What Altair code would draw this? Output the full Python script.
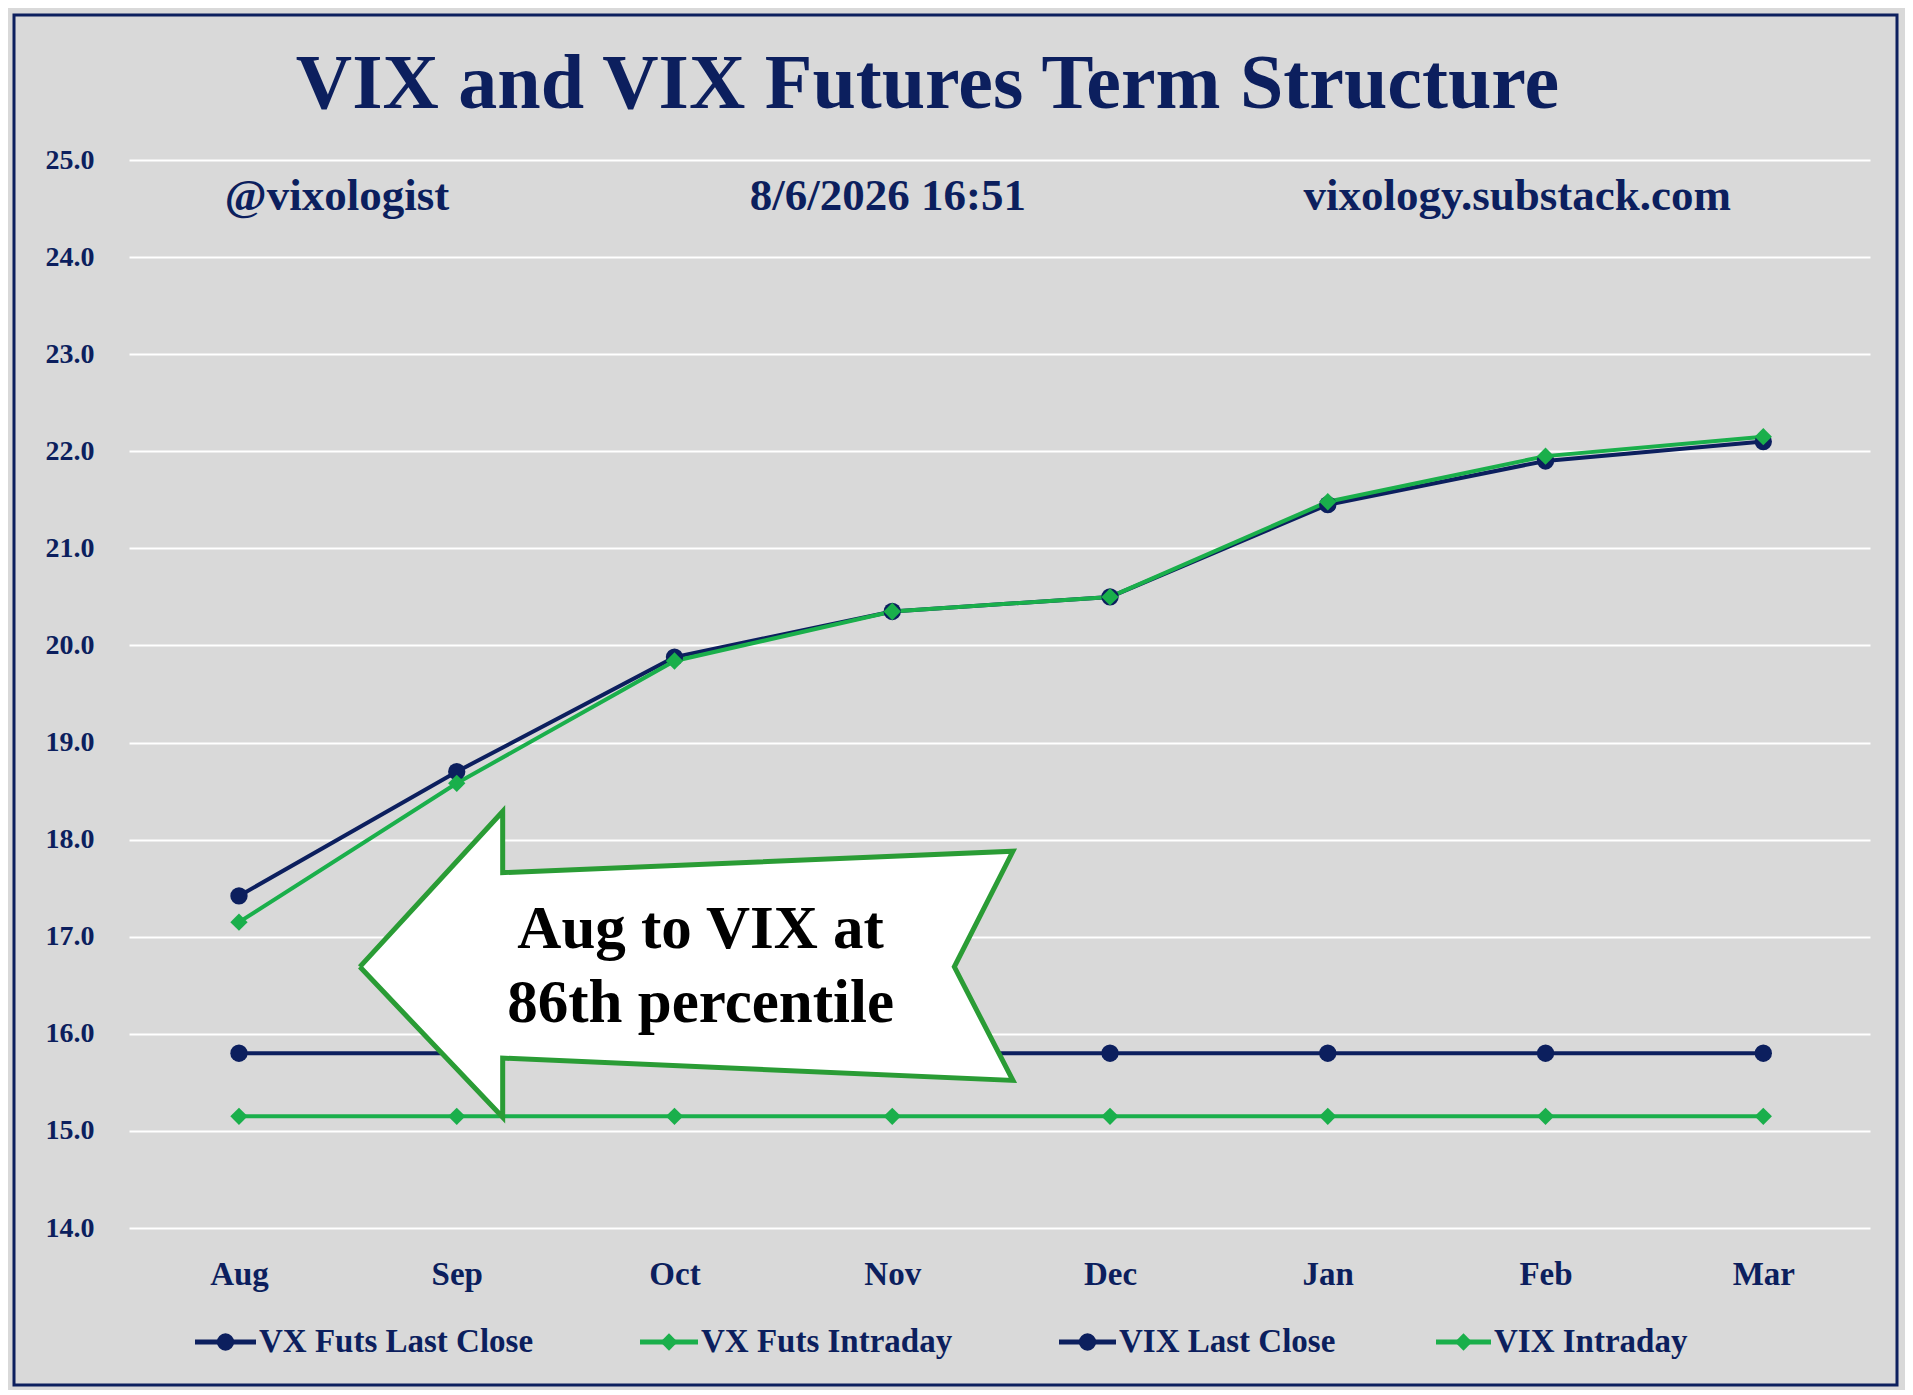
import pandas as pd
import altair as alt

months = ["Aug", "Sep", "Oct", "Nov", "Dec", "Jan", "Feb", "Mar"]
vx_close = [17.42, 18.70, 19.88, 20.35, 20.50, 21.45, 21.90, 22.10]
vx_intraday = [17.15, 18.58, 19.84, 20.35, 20.50, 21.48, 21.95, 22.15]
vix_close = [15.80] * 8
vix_intraday = [15.15] * 8

series = ["VX Futs Last Close", "VX Futs Intraday", "VIX Last Close", "VIX Intraday"]
navy = "#0c1f5e"
green = "#1aaf4b"
font = "Liberation Serif"
colors = [navy, green, navy, green]
shapes = ["circle", "diamond", "circle", "diamond"]

rows = []
for name, vals in zip(series, [vx_close, vx_intraday, vix_close, vix_intraday]):
    for i, v in enumerate(vals):
        rows.append({"i": i, "month": months[i], "value": v, "series": name})
df = pd.DataFrame(rows)

# arrow callout outline (data units)
arrow = pd.DataFrame({
    "o": range(9),
    "x": [0.555, 1.211, 1.211, 3.554, 3.285, 3.554, 1.211, 1.211, 0.555],
    "y": [16.69, 18.29, 17.66, 17.88, 16.69, 15.52, 15.75, 15.14, 16.69],
})

W, H = 1741, 1068
xs = alt.Scale(domain=[-0.505, 7.49], nice=False, zero=False)
ys = alt.Scale(domain=[14, 25], nice=False, zero=False)
cs = alt.Scale(domain=series, range=colors)
ss = alt.Scale(domain=series, range=shapes)
label_expr = "[" + ",".join(f"'{m}'" for m in months) + "][datum.value]"

base = alt.Chart(df).encode(
    x=alt.X("i:Q", scale=xs, title=None,
            axis=alt.Axis(values=list(range(8)), labelExpr=label_expr, grid=False, ticks=False,
                          domain=False, labelFont=font, labelFontSize=33, labelFontWeight="bold",
                          labelColor=navy, labelPadding=30)),
    y=alt.Y("value:Q", scale=ys, title=None,
            axis=alt.Axis(values=list(range(14, 26)), format=".1f", gridColor="white", gridWidth=2,
                          ticks=False, domain=False, labelFont=font, labelFontSize=28,
                          labelFontWeight="bold", labelColor=navy, labelPadding=35)),
    color=alt.Color("series:N", scale=cs, legend=None),
)
lines = base.mark_line(strokeWidth=4)
points = base.mark_point(filled=True, size=300, opacity=1).encode(
    shape=alt.Shape("series:N", scale=ss, legend=None))

# hand-placed legend (line + marker + label)
leg = pd.DataFrame({"series": series, "x1": [66, 511, 930, 1307], "x2": [127, 569, 987, 1362]})
leg["xm"] = (leg["x1"] + leg["x2"]) / 2
leg["xt"] = leg["x2"] + 3
legy = 1182
leg_line = alt.Chart(leg).mark_rule(strokeWidth=5).encode(
    x=alt.X("x1:Q", scale=None), x2="x2:Q", y=alt.value(legy),
    color=alt.Color("series:N", scale=cs, legend=None))
leg_pt = alt.Chart(leg).mark_point(filled=True, size=300, opacity=1).encode(
    x=alt.X("xm:Q", scale=None), y=alt.value(legy),
    color=alt.Color("series:N", scale=cs, legend=None),
    shape=alt.Shape("series:N", scale=ss, legend=None))
leg_txt = alt.Chart(leg).mark_text(font=font, fontSize=33, fontWeight="bold", color=navy,
                                   align="left", baseline="middle").encode(
    x=alt.X("xt:Q", scale=None), y=alt.value(legy), text="series:N")

arrow_shape = alt.Chart(arrow).mark_line(fill="white", stroke="#2a9c35", strokeWidth=5,
                                          strokeJoin="miter").encode(
    x=alt.X("x:Q", scale=xs), y=alt.Y("y:Q", scale=ys), order="o:Q")

callout = pd.DataFrame({"x": [2.12, 2.12], "y": [17.07, 16.31],
                        "t": ["Aug to VIX at", "86th percentile"]})
callout_text = alt.Chart(callout).mark_text(font=font, fontSize=61, fontWeight="bold",
                                            color="black", baseline="middle").encode(
    x=alt.X("x:Q", scale=xs), y=alt.Y("y:Q", scale=ys), text="t:N")

notes = pd.DataFrame({"x": [0.45, 2.98, 5.87], "t": ["@vixologist", "8/6/2026 16:51", "vixology.substack.com"]})
notes_text = alt.Chart(notes).mark_text(font=font, fontSize=45, fontWeight="bold", color=navy,
                                        baseline="middle").encode(
    x=alt.X("x:Q", scale=xs), y=alt.value(36), text="t:N")

title = alt.Chart(pd.DataFrame({"t": ["VIX and VIX Futures Term Structure"]})).mark_text(
    font=font, fontSize=78, fontWeight="bold", color=navy, baseline="middle").encode(
    x=alt.value(W / 2 - 72), y=alt.value(-75), text="t:N")

frame = alt.Chart(pd.DataFrame({"a": [0]})).mark_rect(fill=None, stroke=navy, strokeWidth=3).encode(
    x=alt.value(-115), x2=alt.value(W + 27), y=alt.value(-145), y2=alt.value(H + 157))

chart = alt.layer(lines, points, arrow_shape, callout_text, notes_text, title,
                  leg_line, leg_pt, leg_txt, frame).properties(
    width=W, height=H, autosize=alt.AutoSizeParams(type="none"),
    padding={"left": 121, "top": 152, "right": 35, "bottom": 162},
    background="#d9d9d9",
).configure_view(stroke=None)

chart.save("out.html", embed_options={"renderer": "svg", "actions": False})
